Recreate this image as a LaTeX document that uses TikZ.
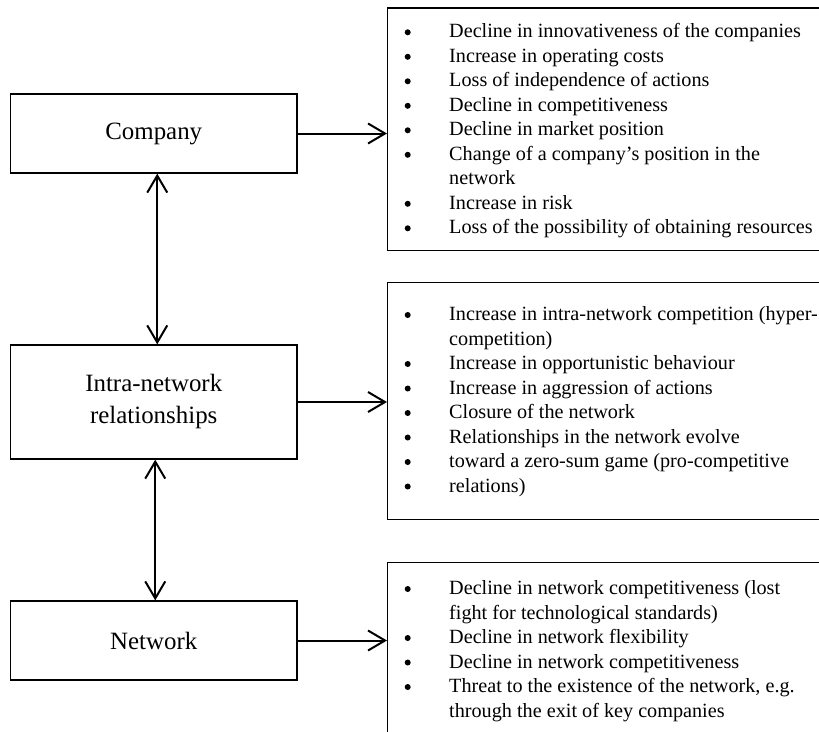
\documentclass[tikz,border=0pt]{standalone}
\usepackage{fontspec}
\setmainfont{Liberation Serif}
\usetikzlibrary{arrows.meta}
\newcommand\lstfnt{\fontsize{20.2pt}{24.5pt}\selectfont}
\newcommand\lblfnt{\fontsize{24.9pt}{32pt}\selectfont}
\begin{document}
\begin{tikzpicture}[x=1pt,y=-1pt,
  lbox/.style={draw, line width=1.3pt, minimum width=286.5pt, inner sep=0pt, font=\lblfnt, align=center},
  rbox/.style={draw, line width=1.3pt, anchor=north west, minimum width=450pt, inner sep=0pt},
  conn/.style={line width=2pt, -{Straight Barb[length=17pt,width=20pt,line width=2pt]}},
  bconn/.style={line width=2pt, {Straight Barb[length=17pt,width=20pt,line width=2pt]}-{Straight Barb[length=17pt,width=20pt,line width=2pt]}},
  itm/.style={anchor=base west, inner sep=0pt, font=\lstfnt},
  dot/.style={circle, fill=black, inner sep=0pt, minimum size=6pt}]
\useasboundingbox (0,0) rectangle (819,731);

% left boxes
\node[lbox, minimum height=79pt] (company) at (153.75,133.5) {Company};
\node[lbox, minimum height=114pt] (intra) at (153.75,402) {Intra-network\\relationships};
\node[lbox, minimum height=79pt] (network) at (153.75,640.5) {Network};

% right boxes
\node[rbox, minimum height=242.7pt] (r1) at (387,7.3) {};
\node[rbox, minimum height=236.7pt] (r2) at (387,282) {};
\node[rbox, minimum height=190pt] (r3) at (387,561.7) {};

% connectors
\draw[conn] (company.east) -- (company.east -| r1.west);
\draw[conn] (intra.east) -- (intra.east -| r2.west);
\draw[conn] (network.east) -- (network.east -| r3.west);
\draw[bconn] ([xshift=3.5pt]company.south) -- ([xshift=3.5pt]intra.north);
\draw[bconn] ([xshift=1.5pt]intra.south) -- ([xshift=1.5pt]network.north);

% box 1 list
\node[dot] (b11) at (407.7,32.3) {};
\node[itm] (t11) at (449,37.8) {Decline in innovativeness of the companies};
\node[dot] (b12) at (407.7,56.8) {};
\node[itm] (t12) at (449,62.3) {Increase in operating costs};
\node[dot] (b13) at (407.7,81.3) {};
\node[itm] (t13) at (449,86.8) {Loss of independence of actions};
\node[dot] (b14) at (407.7,105.8) {};
\node[itm] (t14) at (449,111.3) {Decline in competitiveness};
\node[dot] (b15) at (407.7,130.3) {};
\node[itm] (t15) at (449,135.8) {Decline in market position};
\node[dot] (b16) at (407.7,154.8) {};
\node[itm] (t16) at (449,160.3) {Change of a company’s position in the};
\node[itm] (t17) at (449,184.8) {network};
\node[dot] (b18) at (407.7,203.8) {};
\node[itm] (t18) at (449,209.3) {Increase in risk};
\node[dot] (b19) at (407.7,228.3) {};
\node[itm] (t19) at (449,233.8) {Loss of the possibility of obtaining resources};

% box 2 list
\node[dot] (b21) at (407.7,315) {};
\node[itm] (t21) at (449,320.5) {Increase in intra-network competition (hyper-};
\node[itm] (t22) at (449,345) {competition)};
\node[dot] (b23) at (407.7,364) {};
\node[itm] (t23) at (449,369.5) {Increase in opportunistic behaviour};
\node[dot] (b24) at (407.7,388.5) {};
\node[itm] (t24) at (449,394) {Increase in aggression of actions};
\node[dot] (b25) at (407.7,413) {};
\node[itm] (t25) at (449,418.5) {Closure of the network};
\node[dot] (b26) at (407.7,437.5) {};
\node[itm] (t26) at (449,443) {Relationships in the network evolve};
\node[dot] (b27) at (407.7,462) {};
\node[itm] (t27) at (449,467.5) {toward a zero-sum game (pro-competitive};
\node[dot] (b28) at (407.7,486.5) {};
\node[itm] (t28) at (449,492) {relations)};

% box 3 list
\node[dot] (b31) at (407.7,589) {};
\node[itm] (t31) at (449,594.5) {Decline in network competitiveness (lost};
\node[itm] (t32) at (449,619) {fight for technological standards)};
\node[dot] (b33) at (407.7,638) {};
\node[itm] (t33) at (449,643.5) {Decline in network flexibility};
\node[dot] (b34) at (407.7,662.5) {};
\node[itm] (t34) at (449,668) {Decline in network competitiveness};
\node[dot] (b35) at (407.7,687) {};
\node[itm] (t35) at (449,692.5) {Threat to the existence of the network, e.g.};
\node[itm] (t36) at (449,717) {through the exit of key companies};
\end{tikzpicture}
\end{document}
